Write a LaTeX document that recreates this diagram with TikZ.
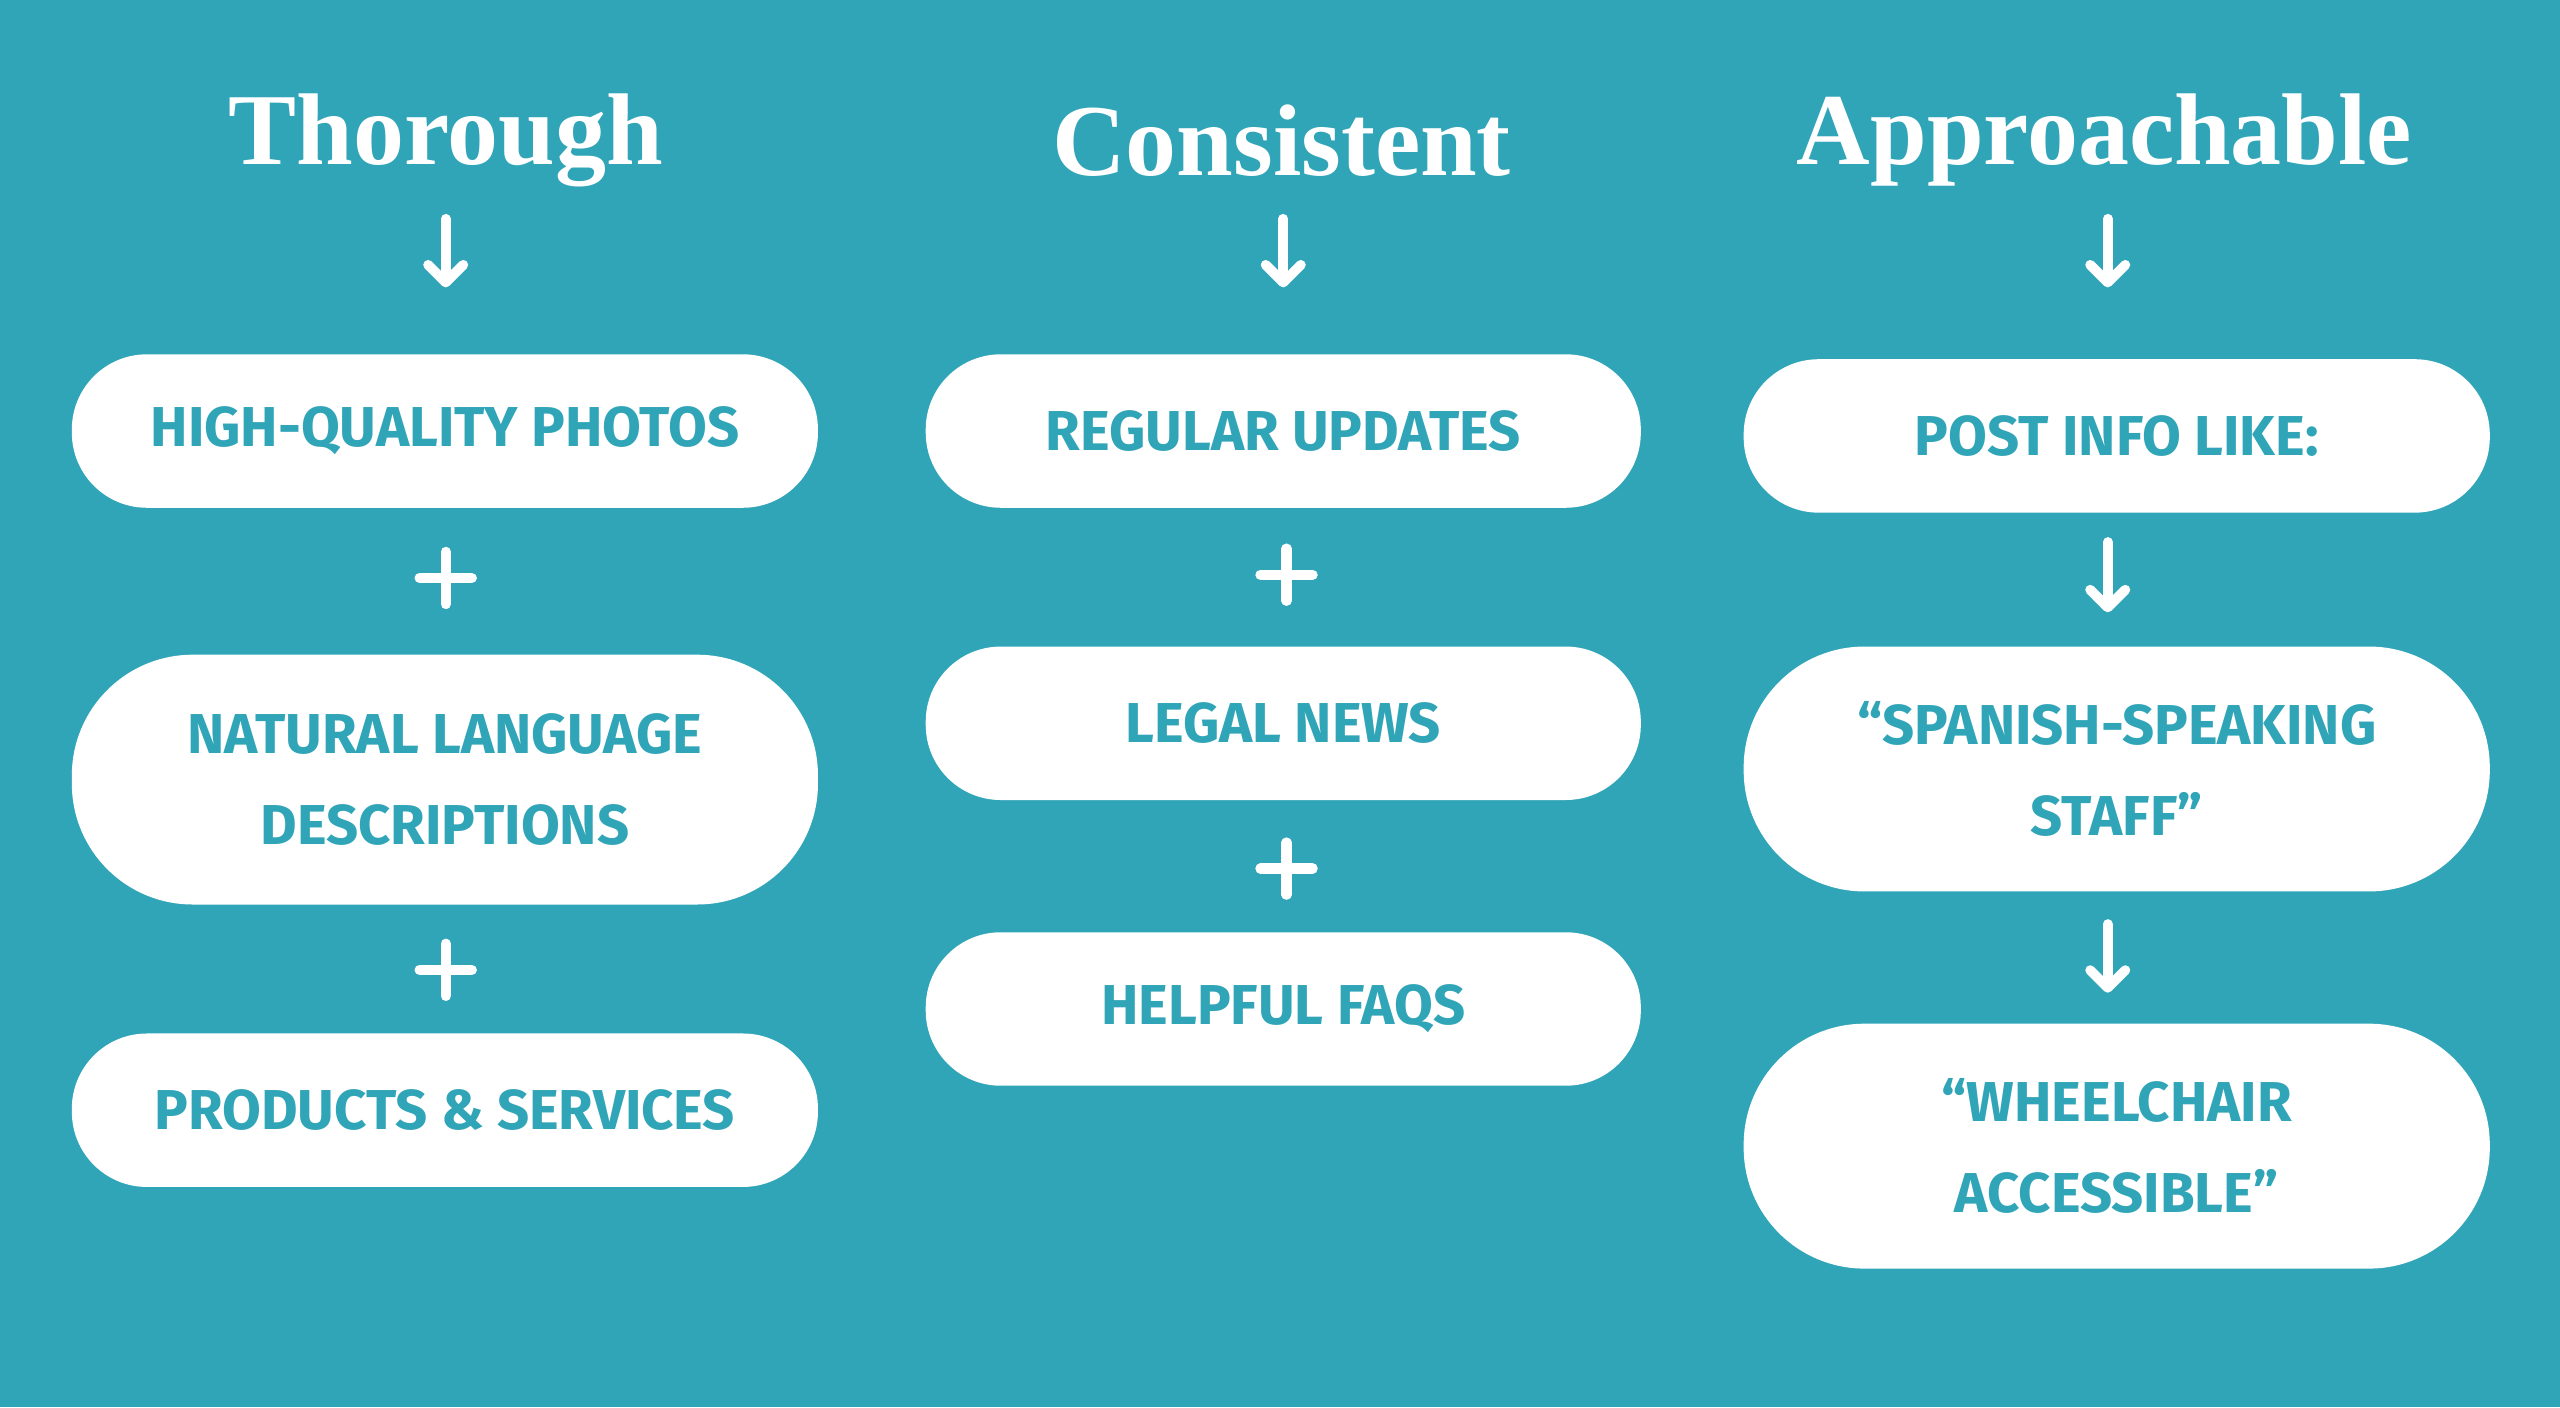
\documentclass[tikz,border=0pt]{standalone}
\usepackage{fontspec}
\setmainfont{Liberation Serif}
\newfontfamily\boxfont{Fira Sans}
\usetikzlibrary{arrows.meta}
\definecolor{bg}{HTML}{31A5B8}
\begin{document}
\begin{tikzpicture}[x=0.016327cm,y=-0.016327cm,
  box/.style={draw=none,fill=white,text=bg,align=center,font=\boxfont\bfseries\fontsize{16}{26}\selectfont,inner sep=0pt},
  sbox/.style={box,minimum height=94*0.016327cm,rounded corners=46*0.016327cm},
  tbox/.style={box,minimum height=152*0.016327cm,rounded corners=74*0.016327cm},
  title/.style={text=white,font=\bfseries\fontsize{29}{30}\selectfont},
  arr/.style={white,line width=2.8pt,line cap=round,line join=round,-{Straight Barb[length=5pt,width=10pt,line cap=round,line join=round]}},
  plus/.style={white,line width=2.9pt,line cap=round}]
\fill[bg] (0,0) rectangle (1568,862);
\useasboundingbox (0,0) rectangle (1568,862);
% titles
\node[title] (t1) at (273,86) {Thorough};
\node[title] (t2) at (785,86) {Consistent};
\node[title] (t3) at (1289,86) {Approachable};
% column 1
\node[sbox,minimum width=457*0.016327cm] (a1) at (272.5,264) {HIGH-QUALITY PHOTOS};
\node[tbox,minimum width=457*0.016327cm,minimum height=153*0.016327cm] (a2) at (272.5,477.5) {NATURAL LANGUAGE\\DESCRIPTIONS};
\node[sbox,minimum width=457*0.016327cm] (a3) at (272.5,680) {PRODUCTS \& SERVICES};
% column 2
\node[sbox,minimum width=438*0.016327cm] (b1) at (786,264) {REGULAR UPDATES};
\node[sbox,minimum width=438*0.016327cm] (b2) at (786,443) {LEGAL NEWS};
\node[sbox,minimum width=438*0.016327cm] (b3) at (786,618) {HELPFUL FAQS};
% column 3
\node[sbox,minimum width=457*0.016327cm] (c1) at (1296.5,267) {POST INFO LIKE:};
\node[tbox,minimum width=457*0.016327cm,minimum height=150*0.016327cm] (c2) at (1296.5,471) {“SPANISH-SPEAKING\\STAFF”};
\node[tbox,minimum width=457*0.016327cm,minimum height=150*0.016327cm] (c3) at (1296.5,702) {“WHEELCHAIR\\ACCESSIBLE”};
% arrows
\coordinate (p1s) at (273,134); \coordinate (p1e) at (273,176);
\coordinate (p2s) at (786,134); \coordinate (p2e) at (786,176);
\coordinate (p3s) at (1291,134); \coordinate (p3e) at (1291,176);
\coordinate (p4s) at (1291,332); \coordinate (p4e) at (1291,375);
\coordinate (p5s) at (1291,566); \coordinate (p5e) at (1291,608);
\foreach \i in {1,...,5}{\draw[arr] (p\i s) -- (p\i e);}
% plus signs
\foreach \px/\py in {273/354, 273/594, 788/352, 788/532}{
  \draw[plus] (\px-16,\py) -- (\px+16,\py);
  \draw[plus] (\px,\py-16) -- (\px,\py+16);
}
\end{tikzpicture}
\end{document}
